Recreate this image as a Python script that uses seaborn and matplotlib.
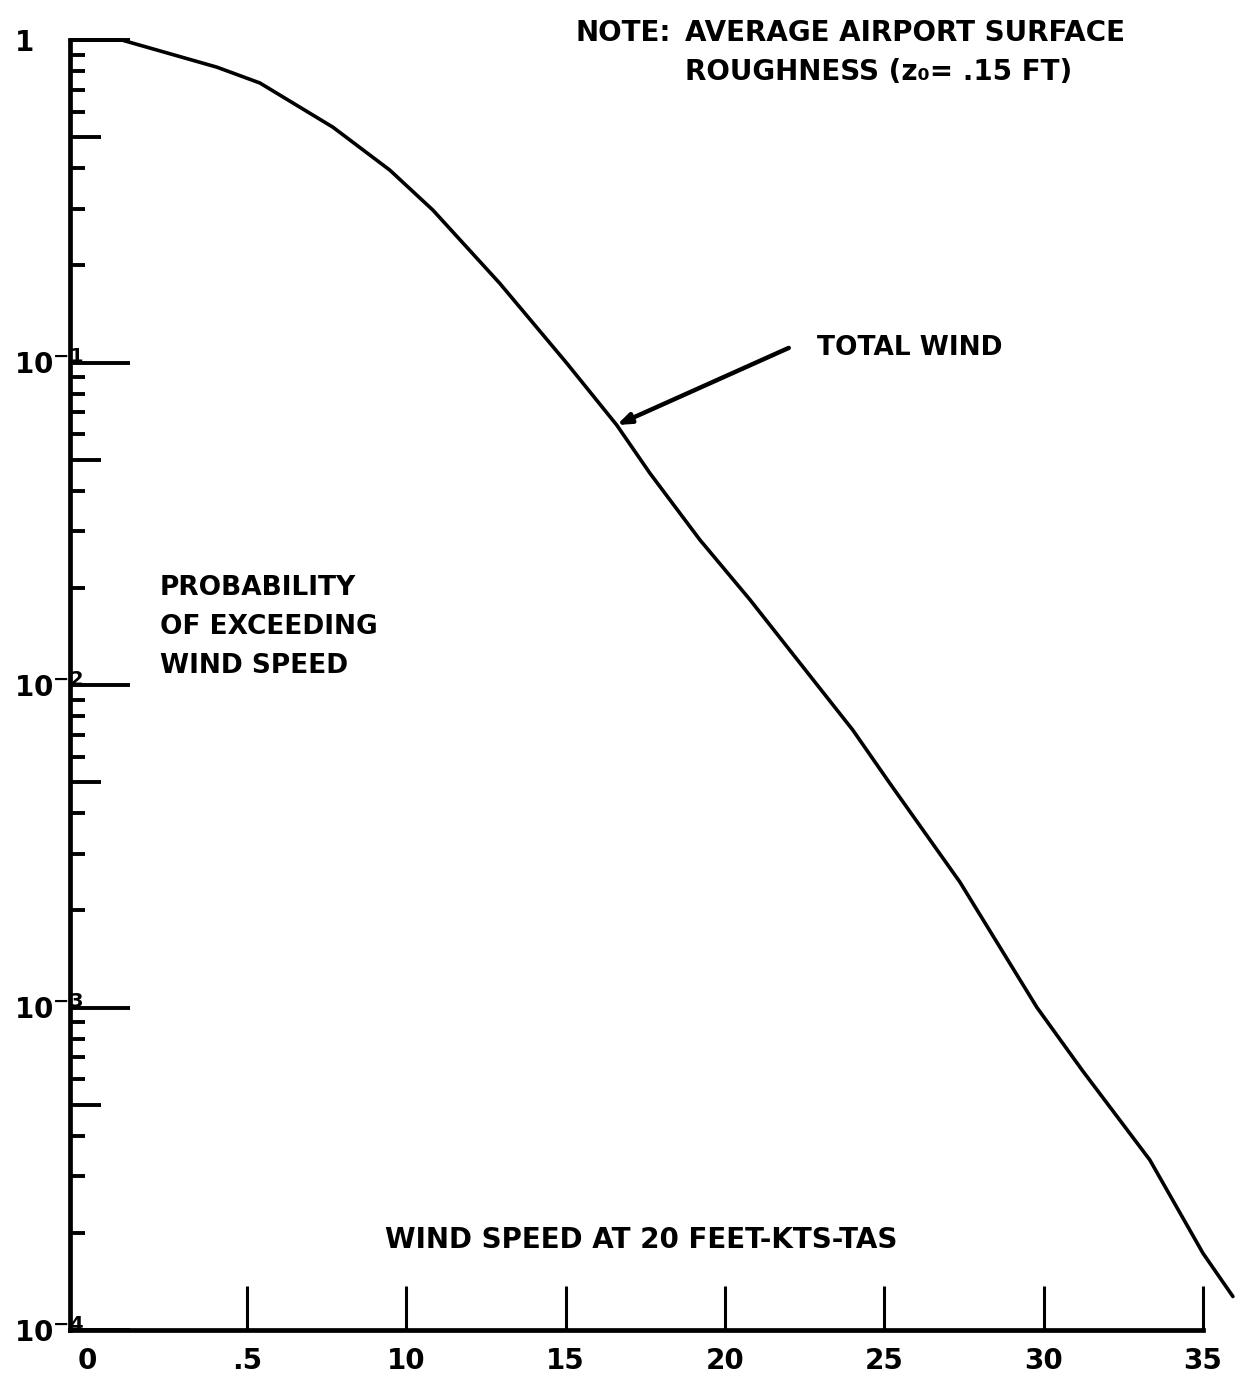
import numpy as np
import pandas as pd
import seaborn as sns
import matplotlib
matplotlib.use("Agg")
from matplotlib import pyplot as plt
from matplotlib.ticker import FixedLocator, LogLocator, NullLocator

#%% DATA (total wind)
wind_kts = [-0.56, 1.07, 4.05, 5.40, 7.69, 9.48, 10.83, 12.93, 15.03, 16.60,
            17.64, 19.21, 20.78, 22.35, 24.01, 25.17, 27.37, 29.79, 31.23,
            33.33, 35.00, 35.94]
prob_exceed = [1.0, 1.0, 0.824, 0.736, 0.537, 0.395, 0.297, 0.176, 0.0996,
               0.0640, 0.0454, 0.0282, 0.0184, 0.0117, 0.00725, 0.00496,
               0.00245, 0.00100, 0.000635, 0.000337, 0.000173, 0.000127]

x_ticks = [0, 5, 10, 15, 20, 25, 30, 35]
x_tick_labels = ['0', '.5', '10', '15', '20', '25', '30', '35']
y_ticks = [1, 1e-1, 1e-2, 1e-3, 1e-4]
y_tick_labels = ['1', r'$10^{-1}$', r'$10^{-2}$', r'$10^{-3}$', r'$10^{-4}$']
y_half_ticks = [0.5, 0.05, 0.005, 0.0005]

arrow_tip = (16.60, 0.0640)
arrow_tail = (22.0, 0.111)

df = pd.DataFrame({'wind': wind_kts, 'prob': prob_exceed})

#%% STYLE
sns.set_style('ticks')
plt.rcParams['font.family'] = ['DejaVu Sans']
plt.rcParams['font.weight'] = 'bold'
plt.rcParams['text.color'] = 'black'
plt.rcParams['axes.labelcolor'] = 'black'
plt.rcParams['xtick.labelcolor'] = 'black'
plt.rcParams['ytick.labelcolor'] = 'black'
plt.rcParams['mathtext.fontset'] = 'dejavusans'
plt.rcParams['mathtext.default'] = 'bf'

fig = plt.figure(figsize=(12.38, 13.95), dpi=100)
ax = fig.add_axes([0.0565, 0.0466, 0.9152, 0.9247])
ax.set_yscale('log')

#%% PLOT
sns.lineplot(data=df, x='wind', y='prob', color='black', lw=2.6, ax=ax)
ax.lines[0].set_clip_on(False)

ax.set_xlim(-0.56, 35)
ax.set_ylim(1e-4, 1)
sns.despine(ax=ax)
for s in ['left', 'bottom']:
    ax.spines[s].set_linewidth(3.4)
    ax.spines[s].set_color('black')

# x axis
ax.xaxis.set_major_locator(FixedLocator(x_ticks))
ax.set_xticklabels(x_tick_labels, fontsize=20, fontweight='bold')
ax.tick_params(axis='x', direction='in', length=32, width=2.2, pad=12,
               color='black', labelcolor='black')
ax.xaxis.get_major_ticks()[0].tick1line.set_visible(False)

# y axis
ax.yaxis.set_major_locator(FixedLocator(y_ticks))
ax.set_yticklabels(y_tick_labels, fontsize=20, ha='left')
ax.yaxis.set_minor_locator(LogLocator(base=10, subs=[2, 3, 4, 6, 7, 8, 9]))
ax.yaxis.set_minor_formatter(plt.NullFormatter())
ax.tick_params(axis='y', which='major', direction='in', length=43, width=2.8,
               pad=40, color='black', labelcolor='black')
ax.tick_params(axis='y', which='minor', direction='in', length=11, width=2.8,
               color='black')

# longer ticks at 5 x 10^k
sec = ax.secondary_yaxis('left')
sec.set_yticks(y_half_ticks)
sec.set_yticklabels([])
sec.yaxis.set_minor_locator(NullLocator())
sec.tick_params(axis='y', direction='in', length=22, width=2.8, color='black')
sec.spines['left'].set_visible(False)

# axis titles placed inside the plot as on the original
ax.set_xlabel('WIND SPEED AT 20 FEET-KTS-TAS', fontsize=20, fontweight='bold')
ax.xaxis.set_label_coords(0.504, 0.07)
ax.xaxis.label.set_va('center')
ax.set_ylabel('PROBABILITY\nOF EXCEEDING\nWIND SPEED', fontsize=19,
              fontweight='bold', rotation=0, ha='left', va='center',
              multialignment='left', linespacing=1.65)
ax.yaxis.set_label_coords(0.0794, 0.545)

#%% ANNOTATIONS
ax.text(0.446, 1.016, 'NOTE:', transform=ax.transAxes, fontsize=20,
        fontweight='bold', ha='left', va='top')
ax.text(0.543, 1.016, 'AVERAGE AIRPORT SURFACE\nROUGHNESS (z\u2080= .15 FT)',
        transform=ax.transAxes, fontsize=20, fontweight='bold', ha='left',
        va='top', linespacing=1.5)
ax.annotate('', xy=arrow_tip, xytext=arrow_tail,
            arrowprops=dict(arrowstyle='-|>,head_length=0.8,head_width=0.3',
                            color='black', lw=3.2, shrinkA=0, shrinkB=0))
ax.text(22.9, arrow_tail[1], 'TOTAL WIND', fontsize=19, fontweight='bold',
        ha='left', va='center')

fig.savefig('out.png', dpi=100)
